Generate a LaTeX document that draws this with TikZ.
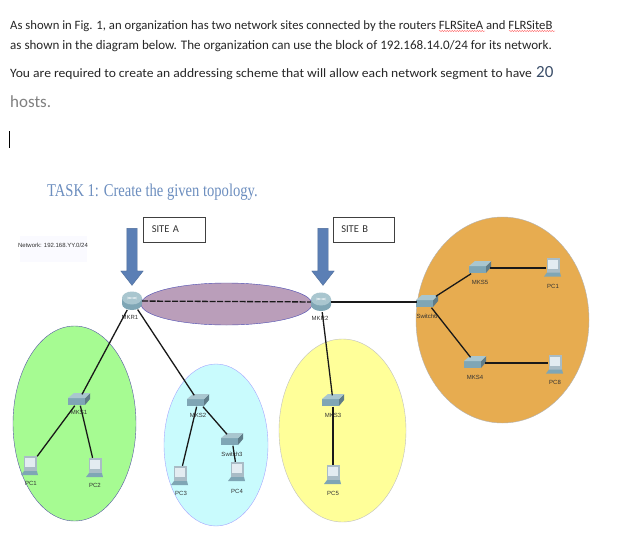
\documentclass[tikz,border=0pt]{standalone}
\usepackage{fontspec}
\setmainfont{Carlito}
\newfontfamily\headfont{Liberation Serif}
\newfontfamily\labelfont{Liberation Sans}
\usetikzlibrary{arrows.meta,calc,positioning,shapes.arrows,shapes.geometric,decorations.pathmorphing}
\definecolor{inkblue}{HTML}{5B7FB5}
\definecolor{headblue}{HTML}{6C8EBF}
\definecolor{devblue}{HTML}{7FA6B5}
\definecolor{devtop}{HTML}{A9C6CF}
\definecolor{screenblue}{HTML}{E3ECF1}
\definecolor{bodygray}{HTML}{A9BCC6}
\definecolor{wanfill}{HTML}{BA9EBA}
\definecolor{greenfill}{HTML}{A6FB92}
\definecolor{cyanfill}{HTML}{C9FBFD}
\definecolor{yellowfill}{HTML}{FFFF99}
\definecolor{orangefill}{HTML}{E7AC50}
\tikzset{
  bodytext/.style={anchor=base west,inner sep=0pt,font=\fontsize{12.7}{14}\selectfont,text=black!85},
  sitebox/.style={draw=black!75,fill=white,line width=0.7pt,minimum width=61.5pt,minimum height=25pt,inner sep=0pt,font=\fontsize{10.5}{12}\selectfont,text=black!80},
  cloud/.style={ellipse,draw,line width=0.4pt,inner sep=0pt},
  devlabel/.style={inner sep=0pt,font=\labelfont\fontsize{6}{7}\selectfont,text=black!80},
  wire/.style={line width=1.3pt,black!90},
  spellmark/.style={red!70,line width=0.4pt,decorate,decoration={snake,amplitude=0.5pt,segment length=2.5pt}},
  sitearrow/.style={single arrow,draw=inkblue!85!black,fill=inkblue,shape border rotate=270,inner sep=5pt,
    minimum width=22pt,single arrow head extend=6pt,single arrow tip angle=76,minimum height=57pt}
}
% device helpers: #1 node name, #2 position, #3 label, #4 label offset
\newcommand{\routerdev}[4]{%
  \node[circle,minimum size=20pt,inner sep=0pt] (#1) at (#2) {};
  \fill[devblue] ($(#1)+(-10,3)$) -- ($(#1)+(-10,-3)$) arc[start angle=180,end angle=360,x radius=10,y radius=6] -- ($(#1)+(10,3)$) -- cycle;
  \fill[devtop] ($(#1)+(0,3)$) ellipse[x radius=10,y radius=6.5];
  \draw[white!85!devblue,line width=0.5pt] ($(#1)+(-5,4)$) -- ($(#1)+(5,2)$) ($(#1)+(-5,2)$) -- ($(#1)+(5,4)$);
  \node[devlabel] (#1lab) at ($(#1)+#4$) {#3};
}
\newcommand{\switchdev}[4]{%
  \node[minimum width=20pt,minimum height=11pt,inner sep=0pt] (#1) at (#2) {};
  \fill[devblue] ($(#1)+(-11,-5)$) rectangle ($(#1)+(6,2)$);
  \fill[devblue!75!black] ($(#1)+(6,-5)$) -- ($(#1)+(11,1)$) -- ($(#1)+(11,7)$) -- ($(#1)+(6,2)$) -- cycle;
  \fill[devtop] ($(#1)+(-11,2)$) -- ($(#1)+(6,2)$) -- ($(#1)+(11,7)$) -- ($(#1)+(-5,7)$) -- cycle;
  \node[devlabel] (#1lab) at ($(#1)+#4$) {#3};
}
\newcommand{\pcdev}[4]{%
  \node[minimum width=14pt,minimum height=20pt,inner sep=0pt] (#1) at (#2) {};
  \fill[bodygray] ($(#1)+(-6,10)$) rectangle ($(#1)+(7,-5)$);
  \fill[screenblue] ($(#1)+(-5,8)$) rectangle ($(#1)+(5,-1)$);
  \fill[devblue] ($(#1)+(-9,-9)$) -- ($(#1)+(-6,-5)$) -- ($(#1)+(7,-5)$) -- ($(#1)+(8,-9)$) -- cycle;
  \node[devlabel] (#1lab) at ($(#1)+#4$) {#3};
}
\begin{document}
\begin{tikzpicture}[x=1pt,y=1pt]
  \useasboundingbox (0,0) rectangle (640,-552);
  \fill[white] (0,0) rectangle (640,-552);

  % question text
  \node[bodytext] at (10,-29) {As shown in Fig. 1, an organization has two network sites connected by the routers FLRSiteA and FLRSiteB};
  \node[bodytext,font=\fontsize{13.05}{14}\selectfont] at (10,-49) {as shown in the diagram below. The organization can use the block of 192.168.14.0/24 for its network.};
  \node[bodytext,xscale=1.07] at (10,-77) {You are required to create an addressing scheme that will allow each network segment to have};
  \node[bodytext,font=\fontsize{17}{20}\selectfont,text=black!45!headblue] at (536,-77) {20};
  \node[bodytext,font=\fontsize{17}{20}\selectfont,text=black!50] at (10,-107) {hosts.};
  \draw[black,line width=0.6pt] (9.5,-131) -- (9.5,-148);
  \draw[spellmark] (439,-31) -- (485,-31);
  \draw[spellmark] (509,-31) -- (555,-31);
  \node[anchor=base west,inner sep=0pt,text=headblue,font=\headfont\fontsize{18}{20}\selectfont,xscale=0.81] at (47,-196) {TASK 1: Create the given topology.};

  % sites
  \node[sitearrow] (arrowa) at (132,-253.5) {};
  \node[sitearrow] (arrowb) at (323,-253.5) {};
  \node[sitebox,text width=45pt,align=left] (sitea) at (174.25,-229.5) {SITE A};
  \node[sitebox,text width=45pt,align=left] (siteb) at (363.75,-229.5) {SITE B};
  \node[fill=blue!2,minimum width=67pt,minimum height=26pt,inner sep=0pt] (netbg) at (53.5,-249) {};
  \node[devlabel] (netlab) at (53,-245.5) {Network: 192.168.YY.0/24};

  % coloured segments
  \node[cloud,fill=wanfill,draw=blue!40!gray,minimum width=171pt,minimum height=42pt] (cloudwan) at (226.5,-304) {};
  \node[cloud,fill=greenfill,draw=blue!30!gray,minimum width=123pt,minimum height=195pt] (clouda) at (74.5,-423.5) {};
  \node[cloud,fill=cyanfill,draw=blue!35,minimum width=104pt,minimum height=162pt] (cloudb) at (216,-445) {};
  \node[cloud,fill=yellowfill,draw=gray!50,minimum width=127pt,minimum height=183pt] (cloudc) at (342.5,-430.5) {};
  \node[cloud,fill=orangefill,draw=gray!60,minimum width=173pt,minimum height=206pt] (cloudd) at (502.5,-320) {};

  % devices
  \routerdev{mkr1}{132,-301}{MKR1}{(-2,-16)}
  \routerdev{mkr2}{321,-302}{MKR2}{(-1,-16)}
  \switchdev{mks1}{79,-400}{MKS1}{(0,-12)}
  \switchdev{mks2}{198,-401}{MKS2}{(0,-14)}
  \switchdev{switch3}{232,-440}{Switch3}{(0,-14)}
  \switchdev{mks3}{333,-401}{MKS3}{(0,-14)}
  \switchdev{switch6}{427,-302}{Switch6}{(0,-14)}
  \switchdev{mks4}{475,-363}{MKS4}{(0,-14)}
  \switchdev{mks5}{480,-268}{MKS5}{(0,-14)}
  \pcdev{pc1}{30,-466}{PC1}{(1,-17)}
  \pcdev{pc2}{95,-468}{PC2}{(0,-17)}
  \pcdev{pc3}{180,-476}{PC3}{(1,-17)}
  \pcdev{pc4}{237,-472}{PC4}{(0,-19)}
  \pcdev{pc5}{333,-475}{PC5}{(0,-18)}
  \pcdev{pc6}{553,-267.5}{PC1}{(0,-18.5)}
  \pcdev{pc8}{555,-364.5}{PC8}{(0,-17.5)}

  % links
  \draw[wire,dash pattern=on 6pt off 1.5pt] (mkr1) -- (mkr2);
  \draw[wire] (mkr1) -- (mks1);
  \draw[wire] (mkr1) -- (mks2);
  \draw[wire] (mks1) -- (pc1);
  \draw[wire] (mks1) -- (pc2);
  \draw[wire] (mks2) -- (pc3);
  \draw[wire] (mks2) -- (switch3);
  \draw[wire] (switch3) -- (pc4);
  \draw[wire] (mkr2) -- (mks3);
  \draw[wire] (mks3) -- (pc5);
  \draw[wire] (mkr2) -- (switch6);
  \draw[wire] (switch6) -- (mks5);
  \draw[wire] (switch6) -- (mks4);
  \draw[wire] (mks5) -- (mks5 -| pc6.west);
  \draw[wire] (mks4) -- (mks4 -| pc8.west);
\end{tikzpicture}
\end{document}
